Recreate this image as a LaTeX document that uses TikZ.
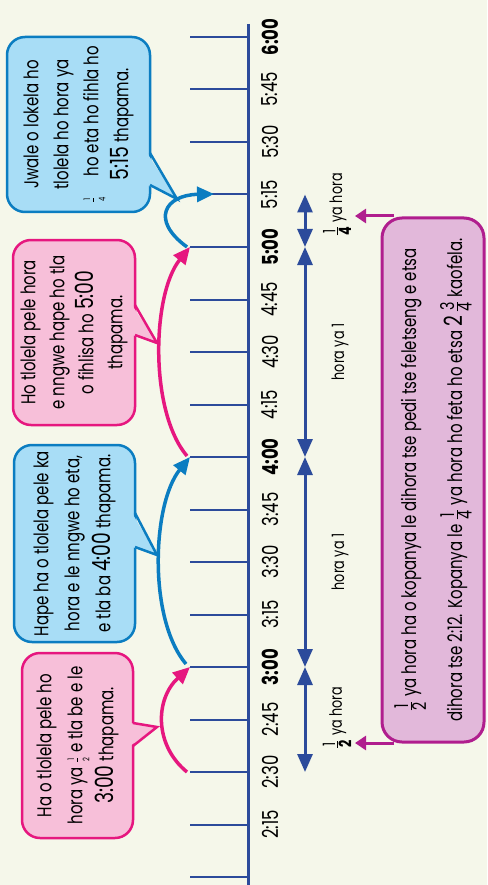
\documentclass[tikz,border=0pt]{standalone}
\usepackage{fontspec}
\usepackage{amsmath}
\setmainfont{Poppins}[FakeStretch=0.75]
\usetikzlibrary{arrows.meta,calc}
\definecolor{bg}{HTML}{F5F7EA}
\definecolor{axisblue}{HTML}{2C4B9B}
\definecolor{pinkline}{HTML}{E6177F}
\definecolor{pinkfill}{HTML}{F7BFD9}
\definecolor{blueline}{HTML}{0B7DC1}
\definecolor{bluefill}{HTML}{A8DDF6}
\definecolor{purpline}{HTML}{B01E8E}
\definecolor{purpfill}{HTML}{E2B8DA}
\newcommand\tinyfr[2]{$\genfrac{}{}{0.4pt}{1}{\text{\fontsize{9}{9}\selectfont #1}}{\text{\fontsize{9}{9}\selectfont #2}}$}
\newcommand\midfr[2]{$\genfrac{}{}{0.7pt}{1}{\text{\fontsize{19}{19}\selectfont #1}}{\text{\fontsize{19}{19}\selectfont #2}}$}
\newcommand\lblfr[2]{$\genfrac{}{}{0.7pt}{1}{\text{\fontsize{17}{17}\selectfont #1}}{\text{\fontsize{17}{17}\selectfont\bfseries #2}}$}
\newcommand\bignum[1]{{\fontsize{25}{25}\selectfont #1}}
\begin{document}
\begin{tikzpicture}[x=1pt,y=-1pt,
  axisline/.style={draw=axisblue,line width=3pt},
  tickline/.style={draw=axisblue,line width=2pt},
  tlabel/.style={rotate=90,inner sep=0pt,font=\fontsize{22}{22}\selectfont},
  dbl/.style={draw=axisblue,line width=3pt,{Triangle[length=18pt,width=15pt]}-{Triangle[length=18pt,width=15pt]}},
  hlabel/.style={rotate=90,inner sep=0pt,font=\fontsize{17}{17}\selectfont},
  pinkarc/.style={draw=pinkline,line width=3.5pt,-{Triangle[length=17pt,width=15pt]}},
  bluearc/.style={draw=blueline,line width=3.5pt,-{Triangle[length=17pt,width=15pt]}},
  callout/.style={rotate=90,rounded corners=18pt,line width=2.5pt,align=center,inner sep=0pt,font=\fontsize{20}{31}\selectfont},
  pinkcall/.style={callout,draw=pinkline,fill=pinkfill},
  bluecall/.style={callout,draw=blueline,fill=bluefill},
  pbox/.style={rotate=90,rounded corners=20pt,line width=3pt,draw=purpline,fill=purpfill,align=center,inner sep=0pt,font=\fontsize{20}{46}\selectfont},
  parrow/.style={draw=purpline,line width=3pt,-{Triangle[length=11pt,width=14pt]}}
]
\useasboundingbox[fill=bg] (0,0) rectangle (487,885);

% axis and ticks
\coordinate (atop) at (248,24);
\coordinate (abot) at (248,885);
\foreach \k in {0,...,16}{
  \coordinate (s\k) at (190,{37+52.5*\k});
  \coordinate (t\k) at (248,{37+52.5*\k});
  \coordinate (m\k) at (305,{37+52.5*\k});
  \draw[tickline] (s\k) -- (t\k);
}
\draw[axisline] (atop) -- (abot);

% tick labels
\foreach \k/\t/\w in {0/6:00/\bfseries,1/5:45/,2/5:30/,3/5:15/,4/5:00/\bfseries,5/4:45/,6/4:30/,7/4:15/,8/4:00/\bfseries,9/3:45/,10/3:30/,11/3:15/,12/3:00/\bfseries,13/2:45/,14/2:30/,15/2:15/}{
  \node[tlabel] (L\k) at (270,{37+52.5*\k}) {\w\t};
}

% double arrows
\draw[dbl] (m14) -- (m12);
\draw[dbl] (m12) -- (m8);
\draw[dbl] (m8) -- (m4);
\draw[dbl] (m4) -- (m3);
\node[hlabel] (h1) at (340,562) {hora ya 1};
\node[hlabel] (h2) at (340,352) {hora ya 1};
\node[hlabel] (fh) at (337,718) {\lblfr12 ya hora};
\node[hlabel] (fq) at (337,205) {\lblfr14 ya hora};

% jumps
\coordinate (j14) at (187,772);
\coordinate (e12) at (190,667);
\coordinate (j12) at (186,664);
\coordinate (e8) at (190,457);
\coordinate (j8) at (187,456);
\coordinate (e4) at (190,247);
\coordinate (j4) at (187,247);
\coordinate (e3) at (214,194);
\draw[pinkarc] (j14) .. controls +(-33,-27) and +(-35,32) .. (e12);
\draw[bluearc] (j12) .. controls +(-38,-45) and +(-38,47) .. (e8);
\draw[pinkarc] (j8) .. controls +(-38,-45) and +(-38,47) .. (e4);
\draw[bluearc] (j4) .. controls (150,220) and (165,195) .. (e3);

% callouts
\node[pinkcall,minimum width=185pt,minimum height=111pt] (c1) at (77.5,745.5)
  {Ha o tlolela pele ho\\hora ya \tinyfr12\ e tla be e le\\\bignum{3:00} thapama.};
\fill[pinkfill] (130,723) -- (157,727) -- (130,746) -- cycle;
\draw[pinkline,line width=2.5pt,line join=miter] (133,723) -- (157,727) -- (133,746);

\node[bluecall,minimum width=197pt,minimum height=121pt] (c2) at (74.5,543.5)
  {Hape ha o tlolela pele ka\\hora e le nngwe ho eta,\\e tla ba \bignum{4:00} thapama.};
\fill[bluefill] (132,513) -- (157,555) -- (132,547) -- cycle;
\draw[blueline,line width=2.5pt] (135,513) -- (157,555) -- (135,547);

\node[pinkcall,minimum width=185pt,minimum height=122pt,font=\fontsize{20}{29}\selectfont] (c3) at (74,332.5)
  {Ho tlolela pele hora\\e nngwe hape ho tla\\o fihlisa ho \bignum{5:00}\\thapama.};
\fill[pinkfill] (132,305) -- (157,343) -- (132,335) -- cycle;
\draw[pinkline,line width=2.5pt] (135,305) -- (157,343) -- (135,335);

\node[bluecall,minimum width=175pt,minimum height=143pt,font=\fontsize{20}{30}\selectfont] (c4) at (78.5,124.5)
  {Jwale o lokela ho\\tlolela ho hora ya\\\tinyfr14\quad ho eta ho fihla ho\\\bignum{5:15} thapama.};
\fill[bluefill] (147,153) -- (177,199) -- (147,185) -- cycle;
\draw[blueline,line width=2.5pt] (150,153) -- (177,199) -- (150,185);

% purple box
\node[pbox,minimum width=524pt,minimum height=102pt] (pb) at (433,480)
  {\midfr12 ya hora ha o kopanya le dihora tse pedi tse feletseng e etsa\\
   dihora tse 2:12. Kopanya le \midfr14 ya hora ho feta ho etsa \bignum{2}\,\midfr34 kaofela.};
\coordinate (q1) at (394,216);
\coordinate (q2) at (355,216);
\coordinate (r1) at (394,743);
\coordinate (r2) at (355,743);
\draw[parrow] (q1) -- (q2);
\draw[parrow] (r1) -- (r2);
\end{tikzpicture}
\end{document}
